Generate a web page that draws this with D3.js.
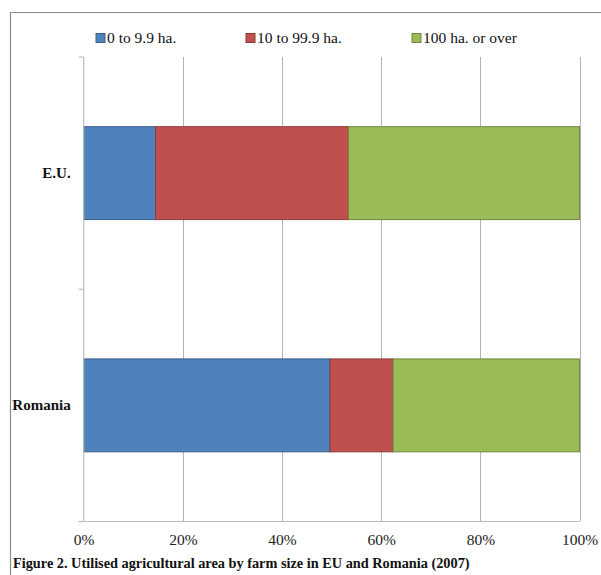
<!DOCTYPE html>
<html>
<head>
<meta charset="utf-8">
<script src="https://cdn.jsdelivr.net/npm/d3@7"></script>
<style>
  html, body { margin: 0; padding: 0; background: #fff; }
  svg { display: block; }
</style>
</head>
<body>
<svg id="chart" width="601" height="575"></svg>
<script>
// Utilised agricultural area share by farm size class (percent)
const categories = ["E.U.", "Romania"];
const seriesNames = ["0 to 9.9 ha.", "10 to 99.9 ha.", "100 ha. or over"];
const small = [14.5, 49.7];
const medium = [38.9, 12.7];
const large = [46.6, 37.6];
const tickLabels = ["0%", "20%", "40%", "60%", "80%", "100%"];

const colors = ["#4F81BD", "#C0504D", "#9BBB59"];
const strokes = ["#3A5F8B", "#8E3B39", "#71893F"];

const svg = d3.select("#chart");
const font = "'Liberation Serif', 'Times New Roman', serif";

const rows = categories.map((c, i) => ({ cat: c, s0: small[i], s1: medium[i], s2: large[i] }));
const stack = d3.stack().keys(["s0", "s1", "s2"])(rows);

const plotLeft = 83.7, plotRight = 579.5, plotTop = 57, plotBottom = 521.5;

const x = d3.scaleLinear().domain([0, 100]).range([plotLeft, plotRight]);
const y = d3.scaleBand().domain(categories).range([plotTop, plotBottom]).paddingInner(0.6).paddingOuter(0.3);

// outer frame (top and left edges)
svg.append("path")
  .attr("d", `M10.5,575 V12.5 H601`)
  .attr("fill", "none").attr("stroke", "#8c8c8c").attr("stroke-width", 1.2);

// vertical gridlines
const ticks = d3.range(0, 101, 20);
svg.append("g").selectAll("line").data(ticks.slice(1)).join("line")
  .attr("x1", d => Math.round(x(d)) + 0.5).attr("x2", d => Math.round(x(d)) + 0.5)
  .attr("y1", plotTop).attr("y2", plotBottom)
  .attr("stroke", "#b3b3b3").attr("stroke-width", 1);

// bars
svg.append("g").selectAll("g").data(stack).join("g")
  .attr("fill", (d, i) => colors[i])
  .attr("stroke", (d, i) => strokes[i])
  .selectAll("rect").data(d => d).join("rect")
  .attr("x", d => x(d[0]))
  .attr("width", d => x(d[1]) - x(d[0]))
  .attr("y", d => y(d.data.cat))
  .attr("height", y.bandwidth())
  .attr("stroke-width", 1);

// x axis
const xAxis = d3.axisBottom(x).tickValues(ticks).tickFormat((d, i) => tickLabels[i]).tickSize(0).tickPadding(12);
const gx = svg.append("g").attr("transform", `translate(0,${plotBottom})`).call(xAxis);
gx.select(".domain").remove();
gx.selectAll("text").attr("font-family", font).attr("font-size", 15.5).attr("fill", "#222");
svg.append("line").attr("x1", plotLeft - 5).attr("x2", plotRight).attr("y1", plotBottom).attr("y2", plotBottom)
  .attr("stroke", "#bdbdbd").attr("stroke-width", 1.2);

// y axis with category separators
svg.append("line").attr("x1", plotLeft).attr("x2", plotLeft).attr("y1", plotTop).attr("y2", plotBottom)
  .attr("stroke", "#bdbdbd").attr("stroke-width", 1.2);
const sep = [plotTop, (plotTop + plotBottom) / 2, plotBottom];
svg.append("g").selectAll("line").data(sep).join("line")
  .attr("x1", plotLeft - 5).attr("x2", plotLeft).attr("y1", d => d).attr("y2", d => d)
  .attr("stroke", "#bdbdbd").attr("stroke-width", 1.2);
const yAxis = d3.axisLeft(y).tickSize(0).tickPadding(13);
const gy = svg.append("g").attr("transform", `translate(${plotLeft},0)`).call(yAxis);
gy.select(".domain").remove();
gy.selectAll("text").attr("font-family", font).attr("font-size", 15)
  .attr("font-weight", "bold").attr("fill", "#111");

// legend
const legendX = [96, 246, 412];
const lg = svg.append("g").selectAll("g").data(seriesNames).join("g")
  .attr("transform", (d, i) => `translate(${legendX[i]},38)`);
lg.append("rect").attr("x", 0).attr("y", -4.5).attr("width", 9).attr("height", 9)
  .attr("fill", (d, i) => colors[i]).attr("stroke", (d, i) => strokes[i]).attr("stroke-width", 1);
lg.append("text").attr("x", 11).attr("dy", "0.35em").text(d => d)
  .attr("font-family", font).attr("font-size", 15.5).attr("fill", "#111");

// caption
svg.append("text").attr("x", 13).attr("y", 568)
  .text("Figure 2. Utilised agricultural area by farm size in EU and Romania (2007)")
  .attr("font-family", font).attr("font-size", 14.3).attr("font-weight", "bold").attr("fill", "#111");
</script>
</body>
</html>
